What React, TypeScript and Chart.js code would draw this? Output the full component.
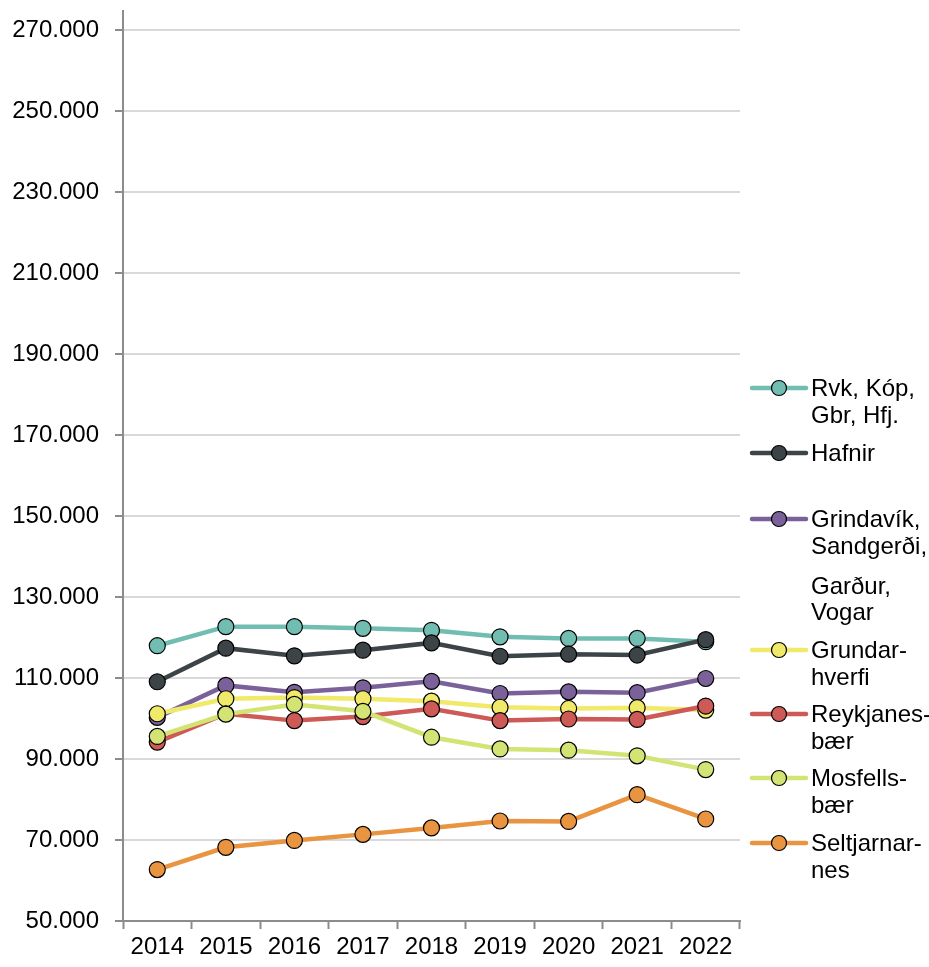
import React, { useEffect, useRef } from "react";
import { Chart, registerables } from "chart.js";

Chart.register(...registerables);

const years = ["2014", "2015", "2016", "2017", "2018", "2019", "2020", "2021", "2022"];

const rvkKopGbrHfj = [118000, 122700, 122700, 122300, 121800, 120200, 119800, 119800, 119000];
const hafnir = [109100, 117400, 115500, 116900, 118700, 115400, 115900, 115700, 119500];
const grindavik = [100300, 108200, 106500, 107600, 109200, 106200, 106600, 106400, 109900];
const grundarhverfi = [101200, 104900, 105200, 104900, 104300, 102800, 102500, 102700, 102100];
const reykjanesbaer = [94200, 101200, 99500, 100500, 102400, 99500, 99900, 99800, 103100];
const mosfellsbaer = [95600, 101100, 103500, 101800, 95400, 92500, 92200, 90800, 87400];
const seltjarnarnes = [62700, 68200, 69900, 71400, 73000, 74700, 74600, 81200, 75200];

const seriesNames = [
  "Rvk, Kóp, Gbr, Hfj.",
  "Hafnir",
  "Grindavík, Sandgerði, Garður, Vogar",
  "Grundarhverfi",
  "Reykjanesbær",
  "Mosfellsbær",
  "Seltjarnarnes",
];
const legendLines = [
  ["Rvk, Kóp,", "Gbr, Hfj."],
  ["Hafnir"],
  ["Grindavík,", "Sandgerði,", "Garður,", "Vogar"],
  ["Grundar-", "hverfi"],
  ["Reykjanes-", "bær"],
  ["Mosfells-", "bær"],
  ["Seltjarnar-", "nes"],
];
const seriesValues = [rvkKopGbrHfj, hafnir, grindavik, grundarhverfi, reykjanesbaer, mosfellsbaer, seltjarnarnes];
const colors = ["#72bdb1", "#3d4447", "#7b6199", "#f0e96a", "#cd5a57", "#d4e474", "#e89440"];

const yMin = 50000;
const yMax = 270000;
const yStep = 20000;

const FONT = '"Liberation Sans", Arial, sans-serif';
const FONT_SIZE = 24;
const AXIS_GRAY = "#8c8c8c";

function fmt(v: number): string {
  return Math.round(v)
    .toString()
    .replace(/\B(?=(\d{3})+(?!\d))/g, ".");
}

// y positions (first line of each item) and per-line offsets for the legend
const legendItemY = [388, 453, 519, 650, 714, 778, 843];
const legendLineOffsets = [
  [0, 27],
  [0],
  [0, 27, 67, 93],
  [0, 27],
  [0, 27],
  [0, 27],
  [0, 27],
];

const legendPlugin = {
  id: "customLegend",
  afterDraw(chart: any) {
    const ctx = chart.ctx;
    const area = chart.chartArea;
    ctx.save();
    // axis extension above top gridline
    ctx.strokeStyle = AXIS_GRAY;
    ctx.lineWidth = 2;
    ctx.beginPath();
    ctx.moveTo(area.left, 10);
    ctx.lineTo(area.left, area.top);
    ctx.stroke();

    const lx0 = area.right + 12;
    const lx1 = lx0 + 54;
    const mx = (lx0 + lx1) / 2;
    const tx = lx1 + 5;
    ctx.font = `${FONT_SIZE}px ${FONT}`;
    ctx.textBaseline = "middle";
    ctx.textAlign = "left";
    legendLines.forEach((lines, i) => {
      const y = legendItemY[i];
      ctx.strokeStyle = colors[i];
      ctx.lineWidth = 4.5;
      ctx.lineCap = "round";
      ctx.beginPath();
      ctx.moveTo(lx0, y);
      ctx.lineTo(lx1, y);
      ctx.stroke();
      ctx.beginPath();
      ctx.arc(mx, y, 7.5, 0, Math.PI * 2);
      ctx.fillStyle = colors[i];
      ctx.fill();
      ctx.lineWidth = 1.2;
      ctx.strokeStyle = "#000";
      ctx.stroke();
      ctx.fillStyle = "#000";
      lines.forEach((t, j) => {
        ctx.fillText(t, tx, y + legendLineOffsets[i][j] + 1);
      });
    });
    ctx.restore();
  },
};

export default function App() {
  const canvasRef = useRef<HTMLCanvasElement | null>(null);

  useEffect(() => {
    if (!canvasRef.current) return;
    const n = seriesValues.length;
    const chart = new Chart(canvasRef.current, {
      type: "line",
      data: {
        labels: years,
        datasets: seriesValues.map((vals, i) => ({
          label: seriesNames[i],
          data: vals,
          borderColor: colors[i],
          backgroundColor: colors[i],
          borderWidth: 4.5,
          tension: 0,
          pointRadius: 8,
          pointHoverRadius: 8,
          pointBackgroundColor: colors[i],
          pointBorderColor: "#000",
          pointBorderWidth: 1.2,
          order: n - i,
        })),
      },
      options: {
        responsive: false,
        animation: false,
        devicePixelRatio: 1,
        layout: { padding: { top: 28, right: 189, bottom: 0, left: 0 } },
        plugins: {
          legend: { display: false },
          tooltip: { enabled: false },
        },
        scales: {
          x: {
            type: "category",
            offset: true,
            grid: {
              offset: true,
              drawOnChartArea: false,
              drawTicks: true,
              tickLength: 8,
              tickColor: AXIS_GRAY,
              tickWidth: 2,
            },
            border: { color: AXIS_GRAY, width: 2 },
            ticks: {
              color: "#000",
              font: { family: FONT, size: FONT_SIZE },
              padding: 4,
              maxRotation: 0,
              autoSkip: false,
            },
            afterFit: (scale: any) => {
              scale.height = 46;
            },
          },
          y: {
            min: yMin,
            max: yMax,
            grid: {
              color: "#d9d9d9",
              lineWidth: 2,
              drawTicks: true,
              tickLength: 8,
              tickColor: AXIS_GRAY,
              tickWidth: 2,
            },
            border: { color: AXIS_GRAY, width: 2 },
            ticks: {
              stepSize: yStep,
              color: "#000",
              font: { family: FONT, size: FONT_SIZE },
              padding: 16,
              callback: (v: any) => fmt(Number(v)),
            },
            afterFit: (scale: any) => {
              scale.width = 123;
            },
          },
        },
      },
      plugins: [legendPlugin],
    });
    return () => chart.destroy();
  }, []);

  return (
    <div style={{ position: "absolute", left: 0, top: 0, width: 929, height: 967, background: "#fff" }}>
      <canvas ref={canvasRef} width={929} height={967} style={{ display: "block" }} />
    </div>
  );
}
